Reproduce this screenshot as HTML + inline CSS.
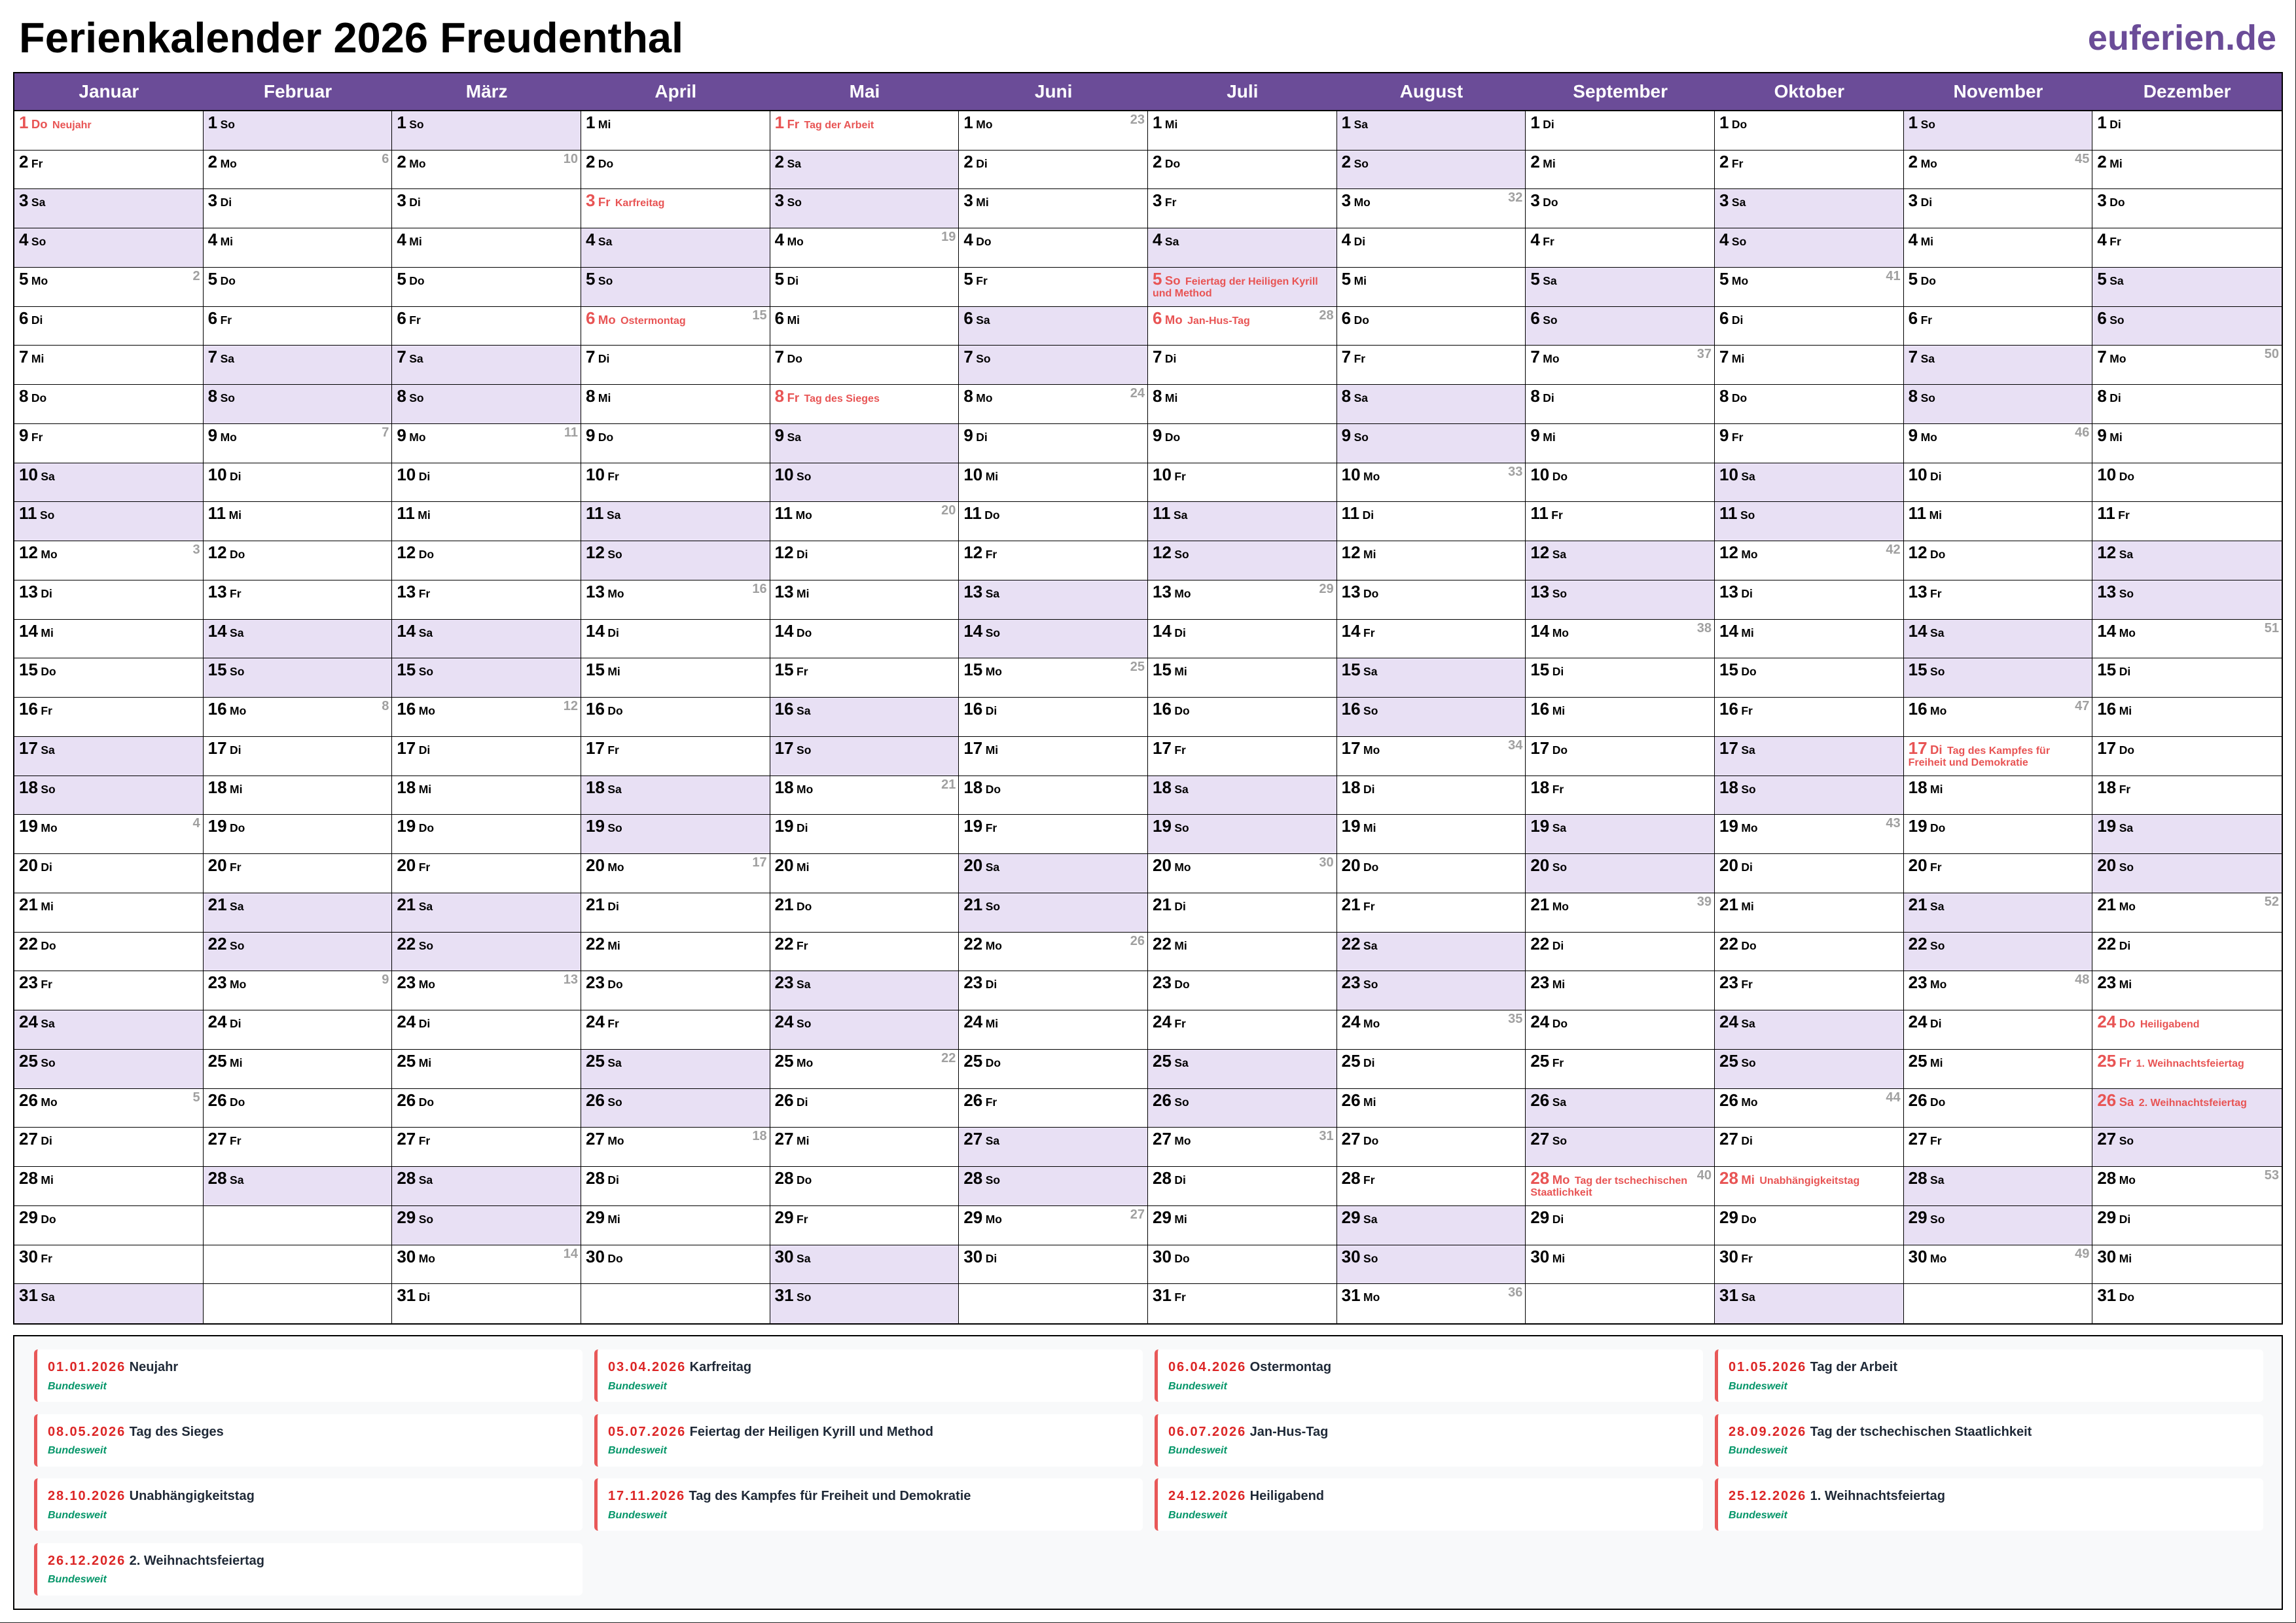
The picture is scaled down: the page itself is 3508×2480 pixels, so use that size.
<!DOCTYPE html>
<html lang="de">
<head>
<meta charset="utf-8">
<title>Ferienkalender 2026 Freudenthal</title>
<style>
html,body{margin:0;padding:0;}
body{width:3508px;height:2480px;position:relative;overflow:hidden;background:#fff;font-family:"Liberation Sans",Arial,sans-serif;}
.title{position:absolute;left:29px;top:25px;font:bold 65px/65px "Liberation Sans",Arial,sans-serif;color:#000;white-space:nowrap;}
.logo{position:absolute;right:30px;top:31px;font:bold 54px/54px "Liberation Sans",Arial,sans-serif;color:#6b4c98;white-space:nowrap;}
.t{position:absolute;left:20px;top:110px;width:3468px;height:1914px;border:2px solid #000;box-sizing:border-box;}
.hd{height:56px;border-bottom:2px solid #000;background:#6b4c98;display:grid;grid-template-columns:repeat(12,minmax(0,1fr));color:#fff;font:bold 28px/56px "Liberation Sans",Arial,sans-serif;text-align:center;}
.g{height:1852px;display:grid;grid-template-columns:repeat(12,minmax(0,1fr));grid-template-rows:repeat(31,minmax(0,1fr));grid-auto-flow:column;}
.g>div{position:relative;border-right:1px solid #000;border-bottom:1px solid #000;padding:8px 0 0 7px;font:bold 16px/18px "Liberation Sans",Arial,sans-serif;overflow:hidden;box-sizing:border-box;color:#000;}
.g>div:nth-child(n+342){border-right:0;}
.g>div:nth-child(31n){border-bottom:0;}
.g>div.w{background:#e8e0f4;}
.g b{font-size:26px;font-weight:bold;}
.g i{font-style:normal;font-size:17.5px;}
.g>div.h{color:#e85454;}
.g>div.h i{font-size:18.5px;}
.g u{text-decoration:none;margin-left:3px;}
.g s{position:absolute;right:4px;top:3px;text-decoration:none;color:#a0a0a0;font-size:20px;line-height:20px;}
.lg{position:absolute;left:20px;top:2040px;width:3468px;height:420px;border:2px solid #000;box-sizing:border-box;background:#f8f9fa;}
.cards{position:absolute;left:52px;top:2062px;display:grid;grid-template-columns:repeat(4,838px);column-gap:18px;grid-auto-rows:80px;row-gap:18.67px;}
.cd{background:#fff;border-left:5px solid #e85858;border-radius:6px;position:relative;}
.cd .d{position:absolute;left:16px;top:15px;font:bold 20px/24px "Liberation Sans",Arial,sans-serif;color:#1f2937;white-space:nowrap;}
.cd .d span{color:#dc2626;letter-spacing:1.9px;}
.cd .r{position:absolute;left:16px;top:46.5px;font:italic bold 16px/20px "Liberation Sans",Arial,sans-serif;color:#059669;white-space:nowrap;}
.fr{position:absolute;right:0;top:0;width:1px;height:2480px;background:#222;}
.fb{position:absolute;left:0;bottom:0;width:3508px;height:1px;background:#222;}
</style>
</head>
<body>
<div class="title">Ferienkalender 2026 Freudenthal</div>
<div class="logo">euferien.de</div>

<div class="t">
<div class="hd"><div>Januar</div><div>Februar</div><div>März</div><div>April</div><div>Mai</div><div>Juni</div><div>Juli</div><div>August</div><div>September</div><div>Oktober</div><div>November</div><div>Dezember</div></div>
<div class="g">
<!-- Januar -->
<div class="h"><b>1</b> <i>Do</i> <u>Neujahr</u></div>
<div><b>2</b> <i>Fr</i></div>
<div class="w"><b>3</b> <i>Sa</i></div>
<div class="w"><b>4</b> <i>So</i></div>
<div><b>5</b> <i>Mo</i><s>2</s></div>
<div><b>6</b> <i>Di</i></div>
<div><b>7</b> <i>Mi</i></div>
<div><b>8</b> <i>Do</i></div>
<div><b>9</b> <i>Fr</i></div>
<div class="w"><b>10</b> <i>Sa</i></div>
<div class="w"><b>11</b> <i>So</i></div>
<div><b>12</b> <i>Mo</i><s>3</s></div>
<div><b>13</b> <i>Di</i></div>
<div><b>14</b> <i>Mi</i></div>
<div><b>15</b> <i>Do</i></div>
<div><b>16</b> <i>Fr</i></div>
<div class="w"><b>17</b> <i>Sa</i></div>
<div class="w"><b>18</b> <i>So</i></div>
<div><b>19</b> <i>Mo</i><s>4</s></div>
<div><b>20</b> <i>Di</i></div>
<div><b>21</b> <i>Mi</i></div>
<div><b>22</b> <i>Do</i></div>
<div><b>23</b> <i>Fr</i></div>
<div class="w"><b>24</b> <i>Sa</i></div>
<div class="w"><b>25</b> <i>So</i></div>
<div><b>26</b> <i>Mo</i><s>5</s></div>
<div><b>27</b> <i>Di</i></div>
<div><b>28</b> <i>Mi</i></div>
<div><b>29</b> <i>Do</i></div>
<div><b>30</b> <i>Fr</i></div>
<div class="w"><b>31</b> <i>Sa</i></div>
<!-- Februar -->
<div class="w"><b>1</b> <i>So</i></div>
<div><b>2</b> <i>Mo</i><s>6</s></div>
<div><b>3</b> <i>Di</i></div>
<div><b>4</b> <i>Mi</i></div>
<div><b>5</b> <i>Do</i></div>
<div><b>6</b> <i>Fr</i></div>
<div class="w"><b>7</b> <i>Sa</i></div>
<div class="w"><b>8</b> <i>So</i></div>
<div><b>9</b> <i>Mo</i><s>7</s></div>
<div><b>10</b> <i>Di</i></div>
<div><b>11</b> <i>Mi</i></div>
<div><b>12</b> <i>Do</i></div>
<div><b>13</b> <i>Fr</i></div>
<div class="w"><b>14</b> <i>Sa</i></div>
<div class="w"><b>15</b> <i>So</i></div>
<div><b>16</b> <i>Mo</i><s>8</s></div>
<div><b>17</b> <i>Di</i></div>
<div><b>18</b> <i>Mi</i></div>
<div><b>19</b> <i>Do</i></div>
<div><b>20</b> <i>Fr</i></div>
<div class="w"><b>21</b> <i>Sa</i></div>
<div class="w"><b>22</b> <i>So</i></div>
<div><b>23</b> <i>Mo</i><s>9</s></div>
<div><b>24</b> <i>Di</i></div>
<div><b>25</b> <i>Mi</i></div>
<div><b>26</b> <i>Do</i></div>
<div><b>27</b> <i>Fr</i></div>
<div class="w"><b>28</b> <i>Sa</i></div>
<div></div>
<div></div>
<div></div>
<!-- März -->
<div class="w"><b>1</b> <i>So</i></div>
<div><b>2</b> <i>Mo</i><s>10</s></div>
<div><b>3</b> <i>Di</i></div>
<div><b>4</b> <i>Mi</i></div>
<div><b>5</b> <i>Do</i></div>
<div><b>6</b> <i>Fr</i></div>
<div class="w"><b>7</b> <i>Sa</i></div>
<div class="w"><b>8</b> <i>So</i></div>
<div><b>9</b> <i>Mo</i><s>11</s></div>
<div><b>10</b> <i>Di</i></div>
<div><b>11</b> <i>Mi</i></div>
<div><b>12</b> <i>Do</i></div>
<div><b>13</b> <i>Fr</i></div>
<div class="w"><b>14</b> <i>Sa</i></div>
<div class="w"><b>15</b> <i>So</i></div>
<div><b>16</b> <i>Mo</i><s>12</s></div>
<div><b>17</b> <i>Di</i></div>
<div><b>18</b> <i>Mi</i></div>
<div><b>19</b> <i>Do</i></div>
<div><b>20</b> <i>Fr</i></div>
<div class="w"><b>21</b> <i>Sa</i></div>
<div class="w"><b>22</b> <i>So</i></div>
<div><b>23</b> <i>Mo</i><s>13</s></div>
<div><b>24</b> <i>Di</i></div>
<div><b>25</b> <i>Mi</i></div>
<div><b>26</b> <i>Do</i></div>
<div><b>27</b> <i>Fr</i></div>
<div class="w"><b>28</b> <i>Sa</i></div>
<div class="w"><b>29</b> <i>So</i></div>
<div><b>30</b> <i>Mo</i><s>14</s></div>
<div><b>31</b> <i>Di</i></div>
<!-- April -->
<div><b>1</b> <i>Mi</i></div>
<div><b>2</b> <i>Do</i></div>
<div class="h"><b>3</b> <i>Fr</i> <u>Karfreitag</u></div>
<div class="w"><b>4</b> <i>Sa</i></div>
<div class="w"><b>5</b> <i>So</i></div>
<div class="h"><b>6</b> <i>Mo</i> <u>Ostermontag</u><s>15</s></div>
<div><b>7</b> <i>Di</i></div>
<div><b>8</b> <i>Mi</i></div>
<div><b>9</b> <i>Do</i></div>
<div><b>10</b> <i>Fr</i></div>
<div class="w"><b>11</b> <i>Sa</i></div>
<div class="w"><b>12</b> <i>So</i></div>
<div><b>13</b> <i>Mo</i><s>16</s></div>
<div><b>14</b> <i>Di</i></div>
<div><b>15</b> <i>Mi</i></div>
<div><b>16</b> <i>Do</i></div>
<div><b>17</b> <i>Fr</i></div>
<div class="w"><b>18</b> <i>Sa</i></div>
<div class="w"><b>19</b> <i>So</i></div>
<div><b>20</b> <i>Mo</i><s>17</s></div>
<div><b>21</b> <i>Di</i></div>
<div><b>22</b> <i>Mi</i></div>
<div><b>23</b> <i>Do</i></div>
<div><b>24</b> <i>Fr</i></div>
<div class="w"><b>25</b> <i>Sa</i></div>
<div class="w"><b>26</b> <i>So</i></div>
<div><b>27</b> <i>Mo</i><s>18</s></div>
<div><b>28</b> <i>Di</i></div>
<div><b>29</b> <i>Mi</i></div>
<div><b>30</b> <i>Do</i></div>
<div></div>
<!-- Mai -->
<div class="h"><b>1</b> <i>Fr</i> <u>Tag der Arbeit</u></div>
<div class="w"><b>2</b> <i>Sa</i></div>
<div class="w"><b>3</b> <i>So</i></div>
<div><b>4</b> <i>Mo</i><s>19</s></div>
<div><b>5</b> <i>Di</i></div>
<div><b>6</b> <i>Mi</i></div>
<div><b>7</b> <i>Do</i></div>
<div class="h"><b>8</b> <i>Fr</i> <u>Tag des Sieges</u></div>
<div class="w"><b>9</b> <i>Sa</i></div>
<div class="w"><b>10</b> <i>So</i></div>
<div><b>11</b> <i>Mo</i><s>20</s></div>
<div><b>12</b> <i>Di</i></div>
<div><b>13</b> <i>Mi</i></div>
<div><b>14</b> <i>Do</i></div>
<div><b>15</b> <i>Fr</i></div>
<div class="w"><b>16</b> <i>Sa</i></div>
<div class="w"><b>17</b> <i>So</i></div>
<div><b>18</b> <i>Mo</i><s>21</s></div>
<div><b>19</b> <i>Di</i></div>
<div><b>20</b> <i>Mi</i></div>
<div><b>21</b> <i>Do</i></div>
<div><b>22</b> <i>Fr</i></div>
<div class="w"><b>23</b> <i>Sa</i></div>
<div class="w"><b>24</b> <i>So</i></div>
<div><b>25</b> <i>Mo</i><s>22</s></div>
<div><b>26</b> <i>Di</i></div>
<div><b>27</b> <i>Mi</i></div>
<div><b>28</b> <i>Do</i></div>
<div><b>29</b> <i>Fr</i></div>
<div class="w"><b>30</b> <i>Sa</i></div>
<div class="w"><b>31</b> <i>So</i></div>
<!-- Juni -->
<div><b>1</b> <i>Mo</i><s>23</s></div>
<div><b>2</b> <i>Di</i></div>
<div><b>3</b> <i>Mi</i></div>
<div><b>4</b> <i>Do</i></div>
<div><b>5</b> <i>Fr</i></div>
<div class="w"><b>6</b> <i>Sa</i></div>
<div class="w"><b>7</b> <i>So</i></div>
<div><b>8</b> <i>Mo</i><s>24</s></div>
<div><b>9</b> <i>Di</i></div>
<div><b>10</b> <i>Mi</i></div>
<div><b>11</b> <i>Do</i></div>
<div><b>12</b> <i>Fr</i></div>
<div class="w"><b>13</b> <i>Sa</i></div>
<div class="w"><b>14</b> <i>So</i></div>
<div><b>15</b> <i>Mo</i><s>25</s></div>
<div><b>16</b> <i>Di</i></div>
<div><b>17</b> <i>Mi</i></div>
<div><b>18</b> <i>Do</i></div>
<div><b>19</b> <i>Fr</i></div>
<div class="w"><b>20</b> <i>Sa</i></div>
<div class="w"><b>21</b> <i>So</i></div>
<div><b>22</b> <i>Mo</i><s>26</s></div>
<div><b>23</b> <i>Di</i></div>
<div><b>24</b> <i>Mi</i></div>
<div><b>25</b> <i>Do</i></div>
<div><b>26</b> <i>Fr</i></div>
<div class="w"><b>27</b> <i>Sa</i></div>
<div class="w"><b>28</b> <i>So</i></div>
<div><b>29</b> <i>Mo</i><s>27</s></div>
<div><b>30</b> <i>Di</i></div>
<div></div>
<!-- Juli -->
<div><b>1</b> <i>Mi</i></div>
<div><b>2</b> <i>Do</i></div>
<div><b>3</b> <i>Fr</i></div>
<div class="w"><b>4</b> <i>Sa</i></div>
<div class="w h"><b>5</b> <i>So</i> <u>Feiertag der Heiligen Kyrill<br>und Method</u></div>
<div class="h"><b>6</b> <i>Mo</i> <u>Jan-Hus-Tag</u><s>28</s></div>
<div><b>7</b> <i>Di</i></div>
<div><b>8</b> <i>Mi</i></div>
<div><b>9</b> <i>Do</i></div>
<div><b>10</b> <i>Fr</i></div>
<div class="w"><b>11</b> <i>Sa</i></div>
<div class="w"><b>12</b> <i>So</i></div>
<div><b>13</b> <i>Mo</i><s>29</s></div>
<div><b>14</b> <i>Di</i></div>
<div><b>15</b> <i>Mi</i></div>
<div><b>16</b> <i>Do</i></div>
<div><b>17</b> <i>Fr</i></div>
<div class="w"><b>18</b> <i>Sa</i></div>
<div class="w"><b>19</b> <i>So</i></div>
<div><b>20</b> <i>Mo</i><s>30</s></div>
<div><b>21</b> <i>Di</i></div>
<div><b>22</b> <i>Mi</i></div>
<div><b>23</b> <i>Do</i></div>
<div><b>24</b> <i>Fr</i></div>
<div class="w"><b>25</b> <i>Sa</i></div>
<div class="w"><b>26</b> <i>So</i></div>
<div><b>27</b> <i>Mo</i><s>31</s></div>
<div><b>28</b> <i>Di</i></div>
<div><b>29</b> <i>Mi</i></div>
<div><b>30</b> <i>Do</i></div>
<div><b>31</b> <i>Fr</i></div>
<!-- August -->
<div class="w"><b>1</b> <i>Sa</i></div>
<div class="w"><b>2</b> <i>So</i></div>
<div><b>3</b> <i>Mo</i><s>32</s></div>
<div><b>4</b> <i>Di</i></div>
<div><b>5</b> <i>Mi</i></div>
<div><b>6</b> <i>Do</i></div>
<div><b>7</b> <i>Fr</i></div>
<div class="w"><b>8</b> <i>Sa</i></div>
<div class="w"><b>9</b> <i>So</i></div>
<div><b>10</b> <i>Mo</i><s>33</s></div>
<div><b>11</b> <i>Di</i></div>
<div><b>12</b> <i>Mi</i></div>
<div><b>13</b> <i>Do</i></div>
<div><b>14</b> <i>Fr</i></div>
<div class="w"><b>15</b> <i>Sa</i></div>
<div class="w"><b>16</b> <i>So</i></div>
<div><b>17</b> <i>Mo</i><s>34</s></div>
<div><b>18</b> <i>Di</i></div>
<div><b>19</b> <i>Mi</i></div>
<div><b>20</b> <i>Do</i></div>
<div><b>21</b> <i>Fr</i></div>
<div class="w"><b>22</b> <i>Sa</i></div>
<div class="w"><b>23</b> <i>So</i></div>
<div><b>24</b> <i>Mo</i><s>35</s></div>
<div><b>25</b> <i>Di</i></div>
<div><b>26</b> <i>Mi</i></div>
<div><b>27</b> <i>Do</i></div>
<div><b>28</b> <i>Fr</i></div>
<div class="w"><b>29</b> <i>Sa</i></div>
<div class="w"><b>30</b> <i>So</i></div>
<div><b>31</b> <i>Mo</i><s>36</s></div>
<!-- September -->
<div><b>1</b> <i>Di</i></div>
<div><b>2</b> <i>Mi</i></div>
<div><b>3</b> <i>Do</i></div>
<div><b>4</b> <i>Fr</i></div>
<div class="w"><b>5</b> <i>Sa</i></div>
<div class="w"><b>6</b> <i>So</i></div>
<div><b>7</b> <i>Mo</i><s>37</s></div>
<div><b>8</b> <i>Di</i></div>
<div><b>9</b> <i>Mi</i></div>
<div><b>10</b> <i>Do</i></div>
<div><b>11</b> <i>Fr</i></div>
<div class="w"><b>12</b> <i>Sa</i></div>
<div class="w"><b>13</b> <i>So</i></div>
<div><b>14</b> <i>Mo</i><s>38</s></div>
<div><b>15</b> <i>Di</i></div>
<div><b>16</b> <i>Mi</i></div>
<div><b>17</b> <i>Do</i></div>
<div><b>18</b> <i>Fr</i></div>
<div class="w"><b>19</b> <i>Sa</i></div>
<div class="w"><b>20</b> <i>So</i></div>
<div><b>21</b> <i>Mo</i><s>39</s></div>
<div><b>22</b> <i>Di</i></div>
<div><b>23</b> <i>Mi</i></div>
<div><b>24</b> <i>Do</i></div>
<div><b>25</b> <i>Fr</i></div>
<div class="w"><b>26</b> <i>Sa</i></div>
<div class="w"><b>27</b> <i>So</i></div>
<div class="h"><b>28</b> <i>Mo</i> <u>Tag der tschechischen<br>Staatlichkeit</u><s>40</s></div>
<div><b>29</b> <i>Di</i></div>
<div><b>30</b> <i>Mi</i></div>
<div></div>
<!-- Oktober -->
<div><b>1</b> <i>Do</i></div>
<div><b>2</b> <i>Fr</i></div>
<div class="w"><b>3</b> <i>Sa</i></div>
<div class="w"><b>4</b> <i>So</i></div>
<div><b>5</b> <i>Mo</i><s>41</s></div>
<div><b>6</b> <i>Di</i></div>
<div><b>7</b> <i>Mi</i></div>
<div><b>8</b> <i>Do</i></div>
<div><b>9</b> <i>Fr</i></div>
<div class="w"><b>10</b> <i>Sa</i></div>
<div class="w"><b>11</b> <i>So</i></div>
<div><b>12</b> <i>Mo</i><s>42</s></div>
<div><b>13</b> <i>Di</i></div>
<div><b>14</b> <i>Mi</i></div>
<div><b>15</b> <i>Do</i></div>
<div><b>16</b> <i>Fr</i></div>
<div class="w"><b>17</b> <i>Sa</i></div>
<div class="w"><b>18</b> <i>So</i></div>
<div><b>19</b> <i>Mo</i><s>43</s></div>
<div><b>20</b> <i>Di</i></div>
<div><b>21</b> <i>Mi</i></div>
<div><b>22</b> <i>Do</i></div>
<div><b>23</b> <i>Fr</i></div>
<div class="w"><b>24</b> <i>Sa</i></div>
<div class="w"><b>25</b> <i>So</i></div>
<div><b>26</b> <i>Mo</i><s>44</s></div>
<div><b>27</b> <i>Di</i></div>
<div class="h"><b>28</b> <i>Mi</i> <u>Unabhängigkeitstag</u></div>
<div><b>29</b> <i>Do</i></div>
<div><b>30</b> <i>Fr</i></div>
<div class="w"><b>31</b> <i>Sa</i></div>
<!-- November -->
<div class="w"><b>1</b> <i>So</i></div>
<div><b>2</b> <i>Mo</i><s>45</s></div>
<div><b>3</b> <i>Di</i></div>
<div><b>4</b> <i>Mi</i></div>
<div><b>5</b> <i>Do</i></div>
<div><b>6</b> <i>Fr</i></div>
<div class="w"><b>7</b> <i>Sa</i></div>
<div class="w"><b>8</b> <i>So</i></div>
<div><b>9</b> <i>Mo</i><s>46</s></div>
<div><b>10</b> <i>Di</i></div>
<div><b>11</b> <i>Mi</i></div>
<div><b>12</b> <i>Do</i></div>
<div><b>13</b> <i>Fr</i></div>
<div class="w"><b>14</b> <i>Sa</i></div>
<div class="w"><b>15</b> <i>So</i></div>
<div><b>16</b> <i>Mo</i><s>47</s></div>
<div class="h"><b>17</b> <i>Di</i> <u>Tag des Kampfes für<br>Freiheit und Demokratie</u></div>
<div><b>18</b> <i>Mi</i></div>
<div><b>19</b> <i>Do</i></div>
<div><b>20</b> <i>Fr</i></div>
<div class="w"><b>21</b> <i>Sa</i></div>
<div class="w"><b>22</b> <i>So</i></div>
<div><b>23</b> <i>Mo</i><s>48</s></div>
<div><b>24</b> <i>Di</i></div>
<div><b>25</b> <i>Mi</i></div>
<div><b>26</b> <i>Do</i></div>
<div><b>27</b> <i>Fr</i></div>
<div class="w"><b>28</b> <i>Sa</i></div>
<div class="w"><b>29</b> <i>So</i></div>
<div><b>30</b> <i>Mo</i><s>49</s></div>
<div></div>
<!-- Dezember -->
<div><b>1</b> <i>Di</i></div>
<div><b>2</b> <i>Mi</i></div>
<div><b>3</b> <i>Do</i></div>
<div><b>4</b> <i>Fr</i></div>
<div class="w"><b>5</b> <i>Sa</i></div>
<div class="w"><b>6</b> <i>So</i></div>
<div><b>7</b> <i>Mo</i><s>50</s></div>
<div><b>8</b> <i>Di</i></div>
<div><b>9</b> <i>Mi</i></div>
<div><b>10</b> <i>Do</i></div>
<div><b>11</b> <i>Fr</i></div>
<div class="w"><b>12</b> <i>Sa</i></div>
<div class="w"><b>13</b> <i>So</i></div>
<div><b>14</b> <i>Mo</i><s>51</s></div>
<div><b>15</b> <i>Di</i></div>
<div><b>16</b> <i>Mi</i></div>
<div><b>17</b> <i>Do</i></div>
<div><b>18</b> <i>Fr</i></div>
<div class="w"><b>19</b> <i>Sa</i></div>
<div class="w"><b>20</b> <i>So</i></div>
<div><b>21</b> <i>Mo</i><s>52</s></div>
<div><b>22</b> <i>Di</i></div>
<div><b>23</b> <i>Mi</i></div>
<div class="h"><b>24</b> <i>Do</i> <u>Heiligabend</u></div>
<div class="h"><b>25</b> <i>Fr</i> <u>1. Weihnachtsfeiertag</u></div>
<div class="w h"><b>26</b> <i>Sa</i> <u>2. Weihnachtsfeiertag</u></div>
<div class="w"><b>27</b> <i>So</i></div>
<div><b>28</b> <i>Mo</i><s>53</s></div>
<div><b>29</b> <i>Di</i></div>
<div><b>30</b> <i>Mi</i></div>
<div><b>31</b> <i>Do</i></div>
</div>
</div>

<div class="lg"></div>
<div class="cards">
<div class="cd"><div class="d"><span>01.01.2026</span> Neujahr</div><div class="r">Bundesweit</div></div>
<div class="cd"><div class="d"><span>03.04.2026</span> Karfreitag</div><div class="r">Bundesweit</div></div>
<div class="cd"><div class="d"><span>06.04.2026</span> Ostermontag</div><div class="r">Bundesweit</div></div>
<div class="cd"><div class="d"><span>01.05.2026</span> Tag der Arbeit</div><div class="r">Bundesweit</div></div>
<div class="cd"><div class="d"><span>08.05.2026</span> Tag des Sieges</div><div class="r">Bundesweit</div></div>
<div class="cd"><div class="d"><span>05.07.2026</span> Feiertag der Heiligen Kyrill und Method</div><div class="r">Bundesweit</div></div>
<div class="cd"><div class="d"><span>06.07.2026</span> Jan-Hus-Tag</div><div class="r">Bundesweit</div></div>
<div class="cd"><div class="d"><span>28.09.2026</span> Tag der tschechischen Staatlichkeit</div><div class="r">Bundesweit</div></div>
<div class="cd"><div class="d"><span>28.10.2026</span> Unabhängigkeitstag</div><div class="r">Bundesweit</div></div>
<div class="cd"><div class="d"><span>17.11.2026</span> Tag des Kampfes für Freiheit und Demokratie</div><div class="r">Bundesweit</div></div>
<div class="cd"><div class="d"><span>24.12.2026</span> Heiligabend</div><div class="r">Bundesweit</div></div>
<div class="cd"><div class="d"><span>25.12.2026</span> 1. Weihnachtsfeiertag</div><div class="r">Bundesweit</div></div>
<div class="cd"><div class="d"><span>26.12.2026</span> 2. Weihnachtsfeiertag</div><div class="r">Bundesweit</div></div>
</div>

<div class="fr"></div>
<div class="fb"></div>
</body>
</html>
